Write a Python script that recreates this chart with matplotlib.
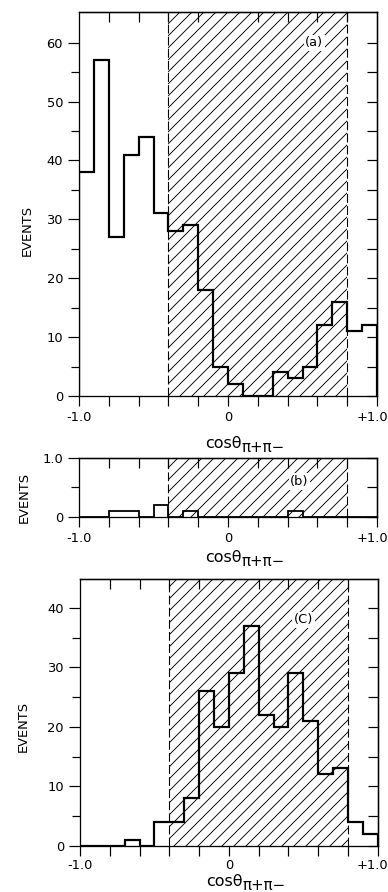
import numpy as np
import matplotlib.pyplot as plt
from matplotlib.transforms import ScaledTranslation

plt.rcParams['font.family'] = 'DejaVu Sans'
plt.rcParams['hatch.linewidth'] = 0.9

# bin edges of cos(theta), width 0.1
edges = np.round(np.linspace(-1.0, 1.0, 21), 2)

# events per bin
events_a = [38, 57, 27, 41, 44, 31, 28, 29, 18, 5, 2, 0, 0, 4, 3, 5, 12, 16, 11, 12]
events_b = [0, 0, 1, 1, 0, 2, 0, 1, 0, 0, 0, 0, 0, 0, 1, 0, 0, 0, 0, 0]
events_c = [0, 0, 0, 1, 0, 4, 4, 8, 26, 20, 29, 37, 22, 20, 29, 21, 12, 13, 4, 2]

cut_lo, cut_hi = -0.4, 0.8

xmajor = [-1.0, 0.0, 1.0]
xmajor_lab = ['-1.0', '0', '+1.0']
xminor = [-0.8, -0.6, -0.4, -0.2, 0.2, 0.4, 0.6, 0.8]

W, H = 388, 892
fig = plt.figure(figsize=(W / 72, H / 72), dpi=72)


def rect(left, top, right, bottom):
    return [left / W, 1 - bottom / H, (right - left) / W, (bottom - top) / H]


def panel(r, counts, ymax, ymaj, ymaj_lab, ymin, tag, tag_xy, ylab_xy, xlab_y,
          lw, xpad=5):
    ax = fig.add_axes(r)
    ax.axvspan(cut_lo, cut_hi, facecolor='none', edgecolor='black',
               hatch='//', linewidth=0, zorder=1)
    for xc in (cut_lo, cut_hi):
        ax.axvline(xc, color='black', lw=1.1, dashes=(8, 3), zorder=2)
    ax.stairs(counts, edges, color='black', lw=lw, zorder=3)
    ax.set_xlim(-1, 1)
    ax.set_ylim(0, ymax)

    ax.set_xticks(xmajor, xmajor_lab)
    ax.set_xticks(xminor, minor=True)
    ax.set_yticks(ymaj, ymaj_lab)
    ax.set_yticks(ymin, minor=True)
    ax.tick_params(axis='x', which='both', direction='out', length=10, width=1.2,
                   pad=xpad, labelsize=13)
    ax.tick_params(axis='y', which='major', direction='out', length=11, width=1.2,
                   pad=5, labelsize=13)
    ax.tick_params(axis='y', which='minor', direction='out', length=8, width=1.2)
    for s in ax.spines.values():
        s.set_linewidth(1.3)
    # the +1.0 label sits a little left of its tick, against the edge
    lab = ax.xaxis.get_major_ticks()[-1].label1
    lab.set_transform(lab.get_transform() +
                      ScaledTranslation(-5 / 72, 0, fig.dpi_scale_trans))

    top = ax.secondary_xaxis('top')
    top.set_xticks(xminor)
    top.tick_params(direction='in', length=10, width=1.2, labeltop=False)
    top.spines['top'].set_linewidth(1.3)

    right = ax.secondary_yaxis('right')
    right.set_yticks(sorted(list(ymaj) + list(ymin)))
    right.tick_params(direction='in', length=10, width=1.2, labelright=False)
    right.spines['right'].set_linewidth(1.3)

    ax.text(tag_xy[0], tag_xy[1], tag, ha='center', va='center', fontsize=13,
            zorder=4, bbox=dict(facecolor='white', edgecolor='none', pad=1.5))

    ax.set_ylabel('EVENTS', fontsize=13, va='center')
    ax.yaxis.set_label_coords(*ylab_xy)

    # x label: cos(theta) with a large pi+pi- subscript
    ax.text(0.545, xlab_y, 'cosθ', transform=ax.transAxes, fontsize=16,
            ha='right', va='baseline')
    ax.text(0.545, xlab_y, 'π+π−', fontsize=15, ha='left', va='baseline',
            transform=ax.transAxes + ScaledTranslation(0.5 / 72, -4 / 72,
                                                       fig.dpi_scale_trans))
    return ax


panel(rect(79, 12, 377, 396), events_a, 65.2,
      list(range(0, 61, 10)), [str(v) for v in range(0, 61, 10)],
      list(range(5, 60, 10)), '(a)', (0.58, 60),
      (-0.175, 0.43), -0.135, 2.2)

panel(rect(79, 458, 377, 516.7), events_b, 10,
      [0, 10], ['0', '1.0'], [5], '(b)', (0.48, 6),
      (-0.185, 0.33), -0.78, 1.8)

panel(rect(80, 579.3, 377.7, 845.7), events_c, 44.8,
      list(range(0, 41, 10)), [str(v) for v in range(0, 41, 10)],
      list(range(5, 45, 10)), '(C)', (0.5, 38),
      (-0.19, 0.446), -0.152, 2.2, xpad=3.5)

fig.savefig('out.png', dpi=72)
